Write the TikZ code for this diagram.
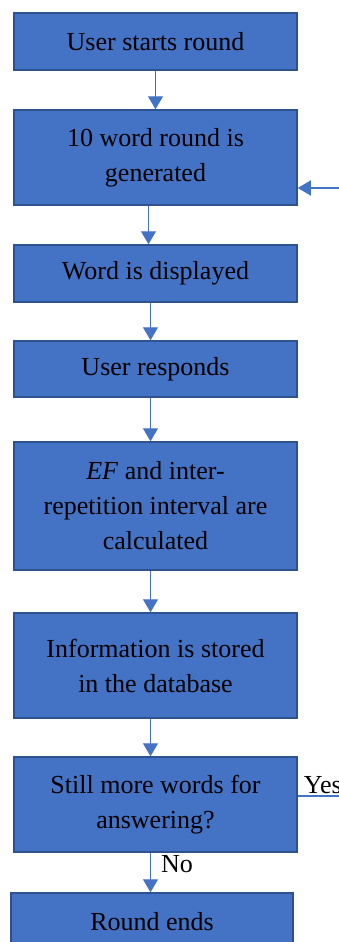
\documentclass[tikz,border=0pt]{standalone}
\usepackage{fontspec}
\setmainfont{Liberation Serif}
\usetikzlibrary{arrows.meta}
\definecolor{mblue}{HTML}{4472C4}
\definecolor{mdark}{HTML}{2F528F}

\tikzset{
  stepbox/.style={draw=mdark, fill=mblue, line width=1.5pt, minimum width=283pt,
    align=center, inner sep=0pt, font=\fontsize{26}{35}\selectfont},
  link/.style={draw=mblue, line width=1.3pt, -{Triangle[width=15pt,length=13pt]}},
  lbl/.style={font=\fontsize{26}{35}\selectfont, inner sep=2pt},
}

\begin{document}
\begin{tikzpicture}[x=1pt, y=-1pt]
    \clip (0, 0) rectangle (339, 942);
    \fill [white] (0, 0) rectangle (339, 942);

    \node [stepbox, minimum height=57pt] (start) at (155.5, 41.5) {User starts round};
    \node [stepbox, minimum height=95pt] (gen) at (155.5, 157.5) {10 word round is\\generated};
    \node [stepbox, minimum height=57pt] (disp) at (155.5, 273.5) {Word is displayed};
    \node [stepbox, minimum height=56pt] (resp) at (155.5, 369) {User responds};
    \node [stepbox, minimum height=128pt] (calc) at (155.5, 506) {\textit{EF} and inter-\\repetition interval are\\calculated};
    \node [stepbox, minimum height=105pt] (store) at (155.5, 665.5) {Information is stored\\in the database};
    \node [stepbox, minimum height=95pt] (check) at (155.5, 804.5) {Still more words for\\answering?};
    \node [stepbox, minimum width=282pt, minimum height=57pt] (finish) at (152, 921.5) {Round ends};

    \draw [link] (start) -- (gen);
    \draw [link] ([xshift=-7pt]gen.south) -- ([xshift=-7pt]disp.north);
    \draw [link] ([xshift=-5pt]disp.south) -- ([xshift=-5pt]resp.north);
    \draw [link] ([xshift=-5pt]resp.south) -- ([xshift=-5pt]calc.north);
    \draw [link] ([xshift=-5pt]calc.south) -- ([xshift=-5pt]store.north);
    \draw [link] ([xshift=-5pt]store.south) -- ([xshift=-5pt]check.north);
    \draw [link] ([xshift=-5pt]check.south) -- node [lbl, right=8pt, pos=0.3] (no) {No} ([xshift=-1.5pt]finish.north);

    % loop back to round generation
    \coordinate (loopa) at ([yshift=8.5pt]check.east);
    \coordinate (loopb) at ([yshift=-30.5pt]gen.east);
    \draw [link] (loopa) -- ++(60, 0) |- (loopb);
    \node [lbl, anchor=south west] (yes) at ([xshift=4pt]loopa) {Yes};
\end{tikzpicture}
\end{document}
